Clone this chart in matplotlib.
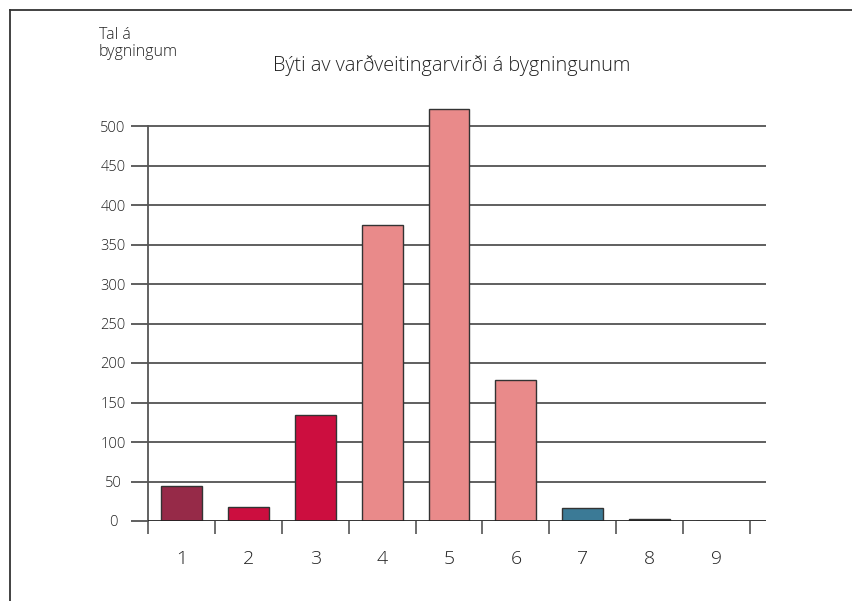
import matplotlib
matplotlib.use("Agg")
import matplotlib.pyplot as plt
from matplotlib.lines import Line2D
import numpy as np

plt.rcParams['font.family'] = ['Open Sans', 'DejaVu Sans']

categories = ["1", "2", "3", "4", "5", "6", "7", "8", "9"]
values = [44, 18, 134, 375, 521, 178, 16, 2.5, 0]
colors = ["#962A48", "#CC0E3F", "#CC0E3F", "#E98A8A", "#E98A8A", "#E98A8A",
          "#3B7A96", "#333333", "#333333"]
yticks = [0, 50, 100, 150, 200, 250, 300, 350, 400, 450, 500]
title = "Býti av varðveitingarvirði á bygningunum"
ylabel = "Tal á\nbygningum"

W, H = 852, 601
fig = plt.figure(figsize=(W / 100, H / 100), dpi=100)
txt = "#222222"

x0, x1 = 148, 766
y_base = 521
px_per_unit = 395 / 500
ytop_val = 540
ax_h = ytop_val * px_per_unit
ax = fig.add_axes([x0 / W, 1 - y_base / H, (x1 - x0) / W, ax_h / H])

x = np.arange(1, len(categories) + 1)
xr = 0.5 + (x1 - x0) * (9 / 602)
ax.set_xlim(0.5, xr)
ax.set_ylim(0, ytop_val)

ax.bar(x, values, width=0.61, color=colors, edgecolor="#333333", linewidth=1.0,
       zorder=3)

for v in yticks[1:]:
    ax.axhline(v, color="#444444", linewidth=1.2, zorder=1)
ax.axhline(0, color="#222222", linewidth=2.0, zorder=4)

for s in ["top", "right", "bottom"]:
    ax.spines[s].set_visible(False)
ax.spines["left"].set_bounds(0, 500)
ax.spines["left"].set_color("#555555")
ax.spines["left"].set_linewidth(1.3)

ax.set_yticks(yticks)
ax.set_yticklabels([str(v) for v in yticks])
ax.tick_params(axis="y", direction="out", length=12.2, width=1.2, color="#444444",
               pad=13, labelsize=10.5, labelcolor=txt)
for lab in ax.get_yticklabels():
    lab.set_horizontalalignment("center")
    lab.set_fontweight("light")

ax.set_xticks(np.arange(0.5, 10.0, 1.0))
ax.set_xticklabels([])
ax.set_xticks(x, minor=True)
ax.set_xticklabels(categories, minor=True)
ax.tick_params(axis="x", which="major", direction="out", length=9.5, width=1.2,
               color="#555555")
ax.tick_params(axis="x", which="minor", length=0, pad=21, labelsize=14,
               labelcolor=txt)
for lab in ax.get_xticklabels(minor=True):
    lab.set_fontweight("light")

fig.text(452 / W, 1 - 66 / H, title, ha="center", va="center", fontsize=14.3,
         color=txt, fontweight="light")
fig.text(99 / W, 1 - 27 / H, ylabel, ha="left", va="top", fontsize=11.5,
         color=txt, linespacing=1.1, fontweight="light")

fig.add_artist(Line2D([10 / W, 1], [1 - 10 / H, 1 - 10 / H], transform=fig.transFigure,
                      color="#333333", linewidth=1.3))
fig.add_artist(Line2D([10 / W, 10 / W], [0, 1 - 10 / H], transform=fig.transFigure,
                      color="#333333", linewidth=1.3))

fig.savefig("out.png", dpi=100)
